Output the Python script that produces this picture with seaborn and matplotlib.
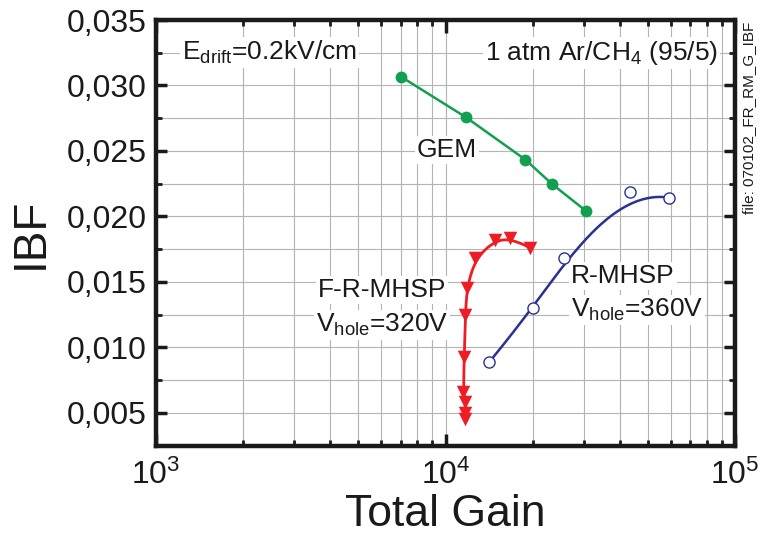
import numpy as np
import pandas as pd
import matplotlib
matplotlib.use("Agg")
import matplotlib.pyplot as plt
from matplotlib.ticker import MultipleLocator, FixedLocator, FixedFormatter, NullFormatter, LogLocator
import seaborn as sns

# ---------------- data ----------------
gem_gain = [7020, 11770, 18870, 23380, 30500]
gem_ibf = [0.03067, 0.02757, 0.02434, 0.02246, 0.02044]

rm_gain = [14170, 20110, 25730, 43480, 59160]
rm_ibf = [0.00889, 0.01299, 0.01685, 0.02189, 0.02144]

frm_gain = [11720, 11720, 11720, 11520, 11610, 11720, 11840, 12650, 14830, 16710, 19580]
frm_ibf = [0.00452, 0.00502, 0.00580, 0.00663, 0.00927, 0.01248, 0.01454, 0.01681, 0.01821, 0.01838, 0.01762]

y_ticks = [0.005, 0.010, 0.015, 0.020, 0.025, 0.030, 0.035]
y_tick_labels = ["0,005", "0,010", "0,015", "0,020", "0,025", "0,030", "0,035"]

GREEN = "#10a050"
BLUE = "#2b3190"
RED = "#ee1c25"

# ---------------- style ----------------
sns.set_theme(style="ticks")
plt.rcParams["font.family"] = ["Liberation Sans", "DejaVu Sans"]
plt.rcParams["mathtext.fontset"] = "custom"
plt.rcParams["mathtext.rm"] = "Liberation Sans"
plt.rcParams["mathtext.it"] = "Liberation Sans:italic"
plt.rcParams["mathtext.bf"] = "Liberation Sans:bold"
plt.rcParams["text.color"] = "#1a1a1a"

fig = plt.figure(figsize=(7.62, 5.46), dpi=100)
ax = fig.add_axes([156 / 762, 1 - 445.7 / 546, (735 - 156) / 762, (445.7 - 20) / 546])
ax.set_xscale("log")


# clamped uniform cubic B-spline with the data points as control points
# (built in log-gain space, like the "B-spline" connector of the original plot)
def bspline(xs, ys, n=300, k=3):
    P = np.column_stack([np.log10(xs), ys])
    m = len(P)
    k = min(k, m - 1)
    inner = np.arange(1, m - k) / (m - k)
    knots = np.concatenate([np.zeros(k + 1), inner, np.ones(k + 1)])
    ts = np.linspace(0, 1, n)
    out = []
    for t in ts:
        if t >= 1.0:
            out.append(P[-1])
            continue
        s = np.searchsorted(knots, t, side="right") - 1
        d = [P[j + s - k].copy() for j in range(k + 1)]
        for r in range(1, k + 1):
            for j in range(k, r - 1, -1):
                i = j + s - k
                a = (t - knots[i]) / (knots[i + k + 1 - r] - knots[i])
                d[j] = (1 - a) * d[j - 1] + a * d[j]
        out.append(d[k])
    out = np.array(out)
    return pd.DataFrame({"gain": 10 ** out[:, 0], "ibf": out[:, 1]})


rm_curve = bspline(rm_gain, rm_ibf)
frm_curve = bspline(frm_gain, frm_ibf)

gem_df = pd.DataFrame({"gain": gem_gain, "ibf": gem_ibf})
rm_df = pd.DataFrame({"gain": rm_gain, "ibf": rm_ibf})
frm_df = pd.DataFrame({"gain": frm_gain, "ibf": frm_ibf})

sns.lineplot(data=gem_df, x="gain", y="ibf", ax=ax, color=GREEN, lw=1.8, sort=False,
             marker="o", markersize=8.5, markeredgewidth=0, zorder=4)
sns.lineplot(data=rm_curve, x="gain", y="ibf", ax=ax, color=BLUE, lw=1.8, sort=False, zorder=4)
sns.scatterplot(data=rm_df, x="gain", y="ibf", ax=ax, marker="o", s=64, facecolor="white",
                edgecolor=BLUE, linewidth=1.0, zorder=5)
sns.lineplot(data=frm_curve, x="gain", y="ibf", ax=ax, color=RED, lw=2.0, sort=False, zorder=4)
sns.scatterplot(data=frm_df, x="gain", y="ibf", ax=ax, marker="v", s=95, color=RED,
                linewidth=0, zorder=5)

# ---------------- axes ----------------
ax.set_xlim(1e3, 1e5)
ax.set_ylim(0.0025, 0.035)
ax.yaxis.set_major_locator(FixedLocator(y_ticks))
ax.yaxis.set_major_formatter(FixedFormatter(y_tick_labels))
ax.yaxis.set_minor_locator(MultipleLocator(0.0025))
ax.xaxis.set_major_locator(LogLocator(base=10, numticks=10))
ax.xaxis.set_minor_locator(LogLocator(base=10, subs=np.arange(2, 10), numticks=20))
ax.xaxis.set_minor_formatter(NullFormatter())

ax.set_axisbelow(True)
ax.grid(which="both", axis="both", color="#b4b4b4", lw=0.8)

for sp in ax.spines.values():
    sp.set_linewidth(3.2)
    sp.set_color("#1a1a1a")
    sp.set_visible(True)

ax.tick_params(which="both", direction="in", top=True, right=True, color="#1a1a1a",
               labelsize=23, labelcolor="#1a1a1a")
ax.tick_params(which="major", length=8, width=2.5, pad=7)
ax.tick_params(which="minor", length=4, width=2.0)
ax.tick_params(axis="x", which="major", pad=10, length=9)

ax.set_xlabel("Total Gain", fontsize=32, labelpad=2, color="#1a1a1a")
ax.set_ylabel("IBF", fontsize=33, labelpad=10, color="#1a1a1a")

box = dict(facecolor="white", edgecolor="none", pad=1.5)
tkw = dict(fontsize=19, color="#1a1a1a", zorder=1.5, bbox=box, transform=ax.transAxes,
           va="baseline")
ax.text(0.045, 0.906, r"E$_{\mathrm{drift}}$=0.2kV/cm", ha="left", **tkw)
ax.text(0.9706, 0.906, r"1 atm Ar/CH$_{4}$ (95/5)", ha="right", **tkw)
ax.text(0.4508, 0.678, "GEM", ha="left", **tkw)
ax.text(0.7168, 0.382, "R-MHSP", ha="left", **tkw)
ax.text(0.7168, 0.302, r"V$_{\mathrm{hole}}$=360V", ha="left", **tkw)
ax.text((382 - 156) / 579, (445.7 - 297) / 425.7, "F-R-MHSP", ha="center", **tkw)
ax.text((382 - 156) / 579, (445.7 - 332) / 425.7, r"V$_{\mathrm{hole}}$=320V", ha="center", **tkw)

fig.text(749 / 762, 1 - 117.5 / 546, "file: 070102_FR_RM_G_IBF", rotation=90,
         ha="center", va="center", fontsize=11, color="#1a1a1a")

fig.savefig("out.png", dpi=100)
